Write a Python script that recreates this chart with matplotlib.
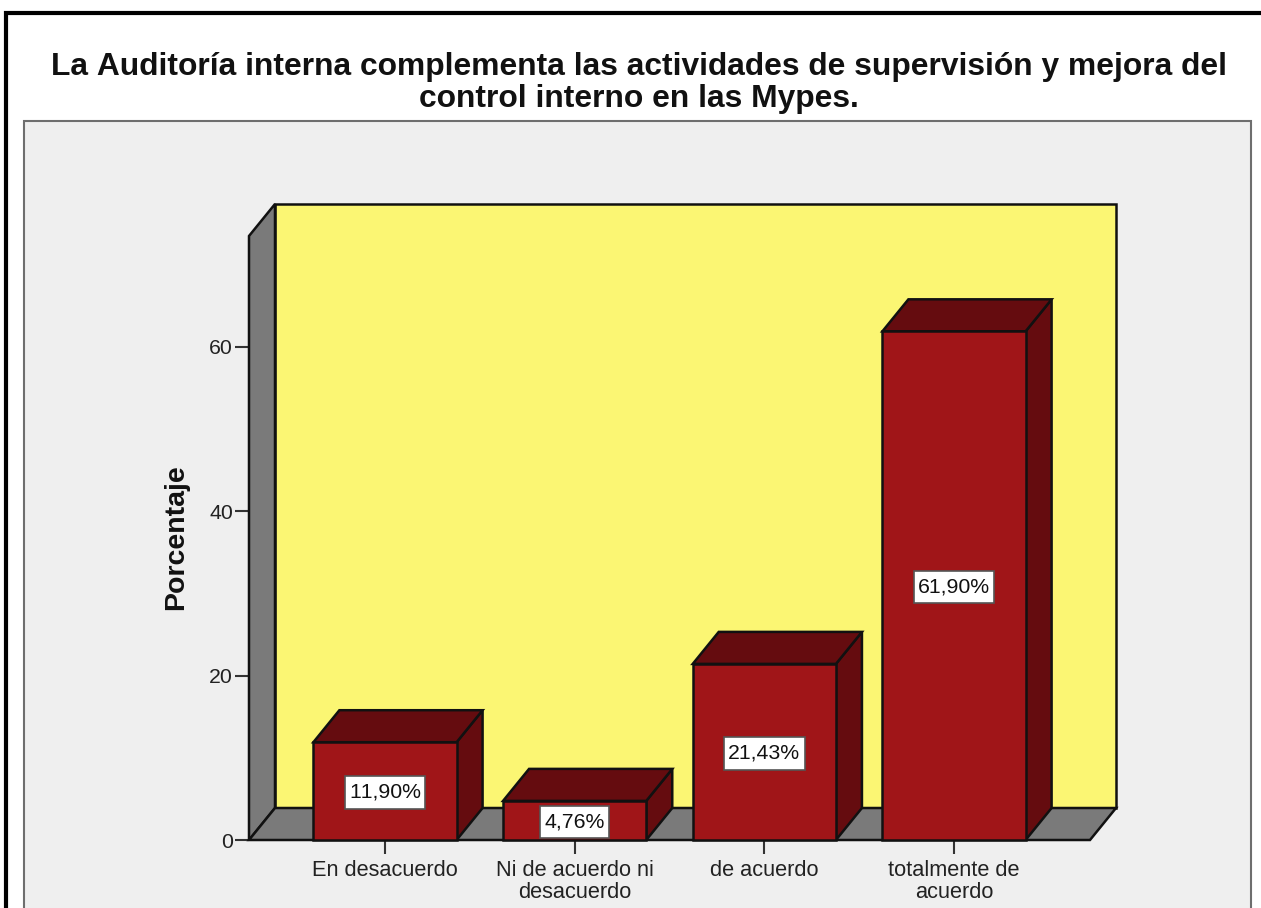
import matplotlib
matplotlib.use("Agg")
import matplotlib.pyplot as plt
from matplotlib.patches import Polygon, Rectangle

W, H = 1261, 908

title = "La Auditoría interna complementa las actividades de supervisión y mejora del\ncontrol interno en las Mypes."
categories = ["En desacuerdo", "Ni de acuerdo ni\ndesacuerdo", "de acuerdo", "totalmente de\nacuerdo"]
values = [11.90, 4.76, 21.43, 61.90]
value_labels = ["11,90%", "4,76%", "21,43%", "61,90%"]
y_ticks = [0, 20, 40, 60]
y_label = "Porcentaje"

RED = "#A01518"
DARK_RED = "#650C0F"
GREY = "#7A7A7A"
YELLOW = "#FBF673"
PANEL = "#EFEFEF"

plt.rcParams["font.family"] = ["Liberation Sans", "DejaVu Sans"]
plt.rcParams["text.kerning_factor"] = 6

fig = plt.figure(figsize=(W / 100, H / 100), dpi=100, facecolor="white")

# fondo en coordenadas de pixel: marco negro y panel gris
bg = fig.add_axes([0, 0, 1, 1], zorder=0)
bg.set_xlim(0, W)
bg.set_ylim(H, 0)
bg.axis("off")
bg.add_patch(Rectangle((24, 121), 1227, 900, fc=PANEL, ec="#6E6E6E", lw=1.5))
bg.plot([6, 6, W + 5], [H + 5, 13, 13], color="black", lw=3, solid_joinstyle="miter")

ax = fig.add_axes([249 / W, (H - 840) / H, (1090 - 249) / W, 604 / H], zorder=1)
ax.set_xlim(-0.717, 3.717)
ax.set_ylim(0, 73.5)
ax.patch.set_visible(False)
for s in ax.spines.values():
    s.set_visible(False)

# profundidad del efecto 3D, pasada de pixeles a unidades de datos
dx = 26 / (841 / (ax.get_xlim()[1] - ax.get_xlim()[0]))
dy = 32 / (604 / ax.get_ylim()[1])
x0, x1 = ax.get_xlim()
top = ax.get_ylim()[1]


def face(pts, color, z):
    ax.add_patch(Polygon(pts, closed=True, fc=color, ec="#111111", lw=1.8,
                         joinstyle="miter", clip_on=False, zorder=z))


# paredes y suelo
face([(x0 + dx, dy), (x1 + dx, dy), (x1 + dx, top + dy), (x0 + dx, top + dy)], YELLOW, 1)
face([(x0, 0), (x0 + dx, dy), (x0 + dx, top + dy), (x0, top)], GREY, 2)
face([(x0, 0), (x1, 0), (x1 + dx, dy), (x0 + dx, dy)], GREY, 2)

bar_w = 0.755
for i, v in enumerate(values):
    l, r = i - bar_w / 2, i + bar_w / 2
    face([(r, 0), (r + dx, dy), (r + dx, v + dy), (r, v)], DARK_RED, 3)
    face([(l, v), (r, v), (r + dx, v + dy), (l + dx, v + dy)], DARK_RED, 3)
    face([(l, 0), (r, 0), (r, v), (l, v)], RED, 4)
    # mutation_aspect: la caja del original es mas alta que ancha de margen
    ax.annotate(value_labels[i], xy=(i, v / 2), xytext=(0, -1), textcoords="offset points",
                ha="center", va="center", fontsize=15.3, color="#111111", zorder=5,
                bbox=dict(boxstyle="square,pad=0.2", mutation_aspect=1.6,
                          fc="white", ec="#555555", lw=1.2))

ax.set_xticks(range(len(categories)))
ax.set_xticklabels(categories, fontsize=15.7, linespacing=1.03, color="#222222")
ax.set_yticks(y_ticks)
ax.set_yticklabels([str(t) for t in y_ticks], fontsize=15.3, color="#222222")
ax.tick_params(axis="x", length=10, width=1.5, color="#333333", pad=4.5)
ax.tick_params(axis="y", length=10, width=1.5, color="#333333", pad=1.5)

fig.text(176 / W, 1 - 537 / H, y_label, rotation=90, ha="center", va="center",
         fontsize=20.5, fontweight="bold", color="#111111")
fig.text(639 / W, 1 - 83 / H, title, ha="center", va="center", fontsize=22.85,
         fontweight="bold", linespacing=1.07, color="#111111")

fig.savefig("out.png", dpi=100)
